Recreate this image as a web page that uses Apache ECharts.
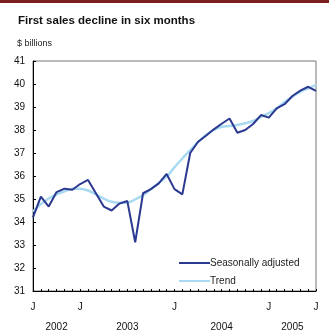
<!DOCTYPE html>
<html><head><meta charset="utf-8">
<script src="https://cdn.jsdelivr.net/npm/echarts@6/dist/echarts.min.js"></script>
<style>html,body{margin:0;padding:0;background:#fff}#c{width:329px;height:333px}</style>
</head><body><div id="c"></div>
<script>
var months = ["J","F","M","A","M","J","J","A","S","O","N","D",
              "J","F","M","A","M","J","J","A","S","O","N","D",
              "J","F","M","A","M","J","J","A","S","O","N","D","J"];
var monthTickLabels = {0:"J",6:"J",18:"J",30:"J",36:"J"};
var yearLabels = {3:"2002",12:"2003",24:"2004",33:"2005"};
var seasonallyAdjusted = [34.2,35.1,34.67,35.3,35.45,35.4,35.65,35.83,35.25,34.67,34.5,34.8,
  34.91,33.12,35.25,35.43,35.68,36.09,35.43,35.2,37.0,37.49,37.75,38.03,
  38.27,38.5,37.88,38.0,38.26,38.65,38.54,38.94,39.12,39.48,39.71,39.88,39.7];
var trend = [34.45,34.78,35.02,35.2,35.33,35.45,35.45,35.37,35.2,35.02,34.88,34.84,
  34.84,34.98,35.17,35.43,35.7,35.97,36.38,36.76,37.12,37.47,37.78,38.0,
  38.14,38.17,38.22,38.29,38.39,38.57,38.73,38.94,39.22,39.45,39.66,39.81,39.96];
var seriesNames = ["Seasonally adjusted","Trend"];

var chart = echarts.init(document.getElementById('c'), null, {renderer:'canvas'});
var font = "Liberation Sans, Arial, sans-serif";
chart.setOption({
  animation:false,
  backgroundColor:'#fff',
  textStyle:{fontFamily:font},
  title:[
    {text:"First sales decline in six months", left:13, top:10,
     textStyle:{fontSize:11.5, fontWeight:'bold', color:'#111', fontFamily:font}},
    {text:"$ billions", left:12, top:34,
     textStyle:{fontSize:9, fontWeight:'normal', color:'#222', fontFamily:font}}
  ],
  graphic:[{type:'rect', left:0, top:0, shape:{width:329,height:3}, style:{fill:'#7a2020'}}],
  legend:{
    orient:'vertical', left:174, top:253, itemWidth:31, itemHeight:2, itemGap:8,
    icon:'rect',
    textStyle:{fontSize:10, color:'#222', padding:[0,0,0,-5]},
    data:seriesNames
  },
  grid:{left:33, top:61, right:13, bottom:42, show:true, borderColor:'#777', borderWidth:1},
  xAxis:[{
    type:'category', data:months, boundaryGap:false,
    axisLine:{lineStyle:{color:'#000', width:1}},
    axisTick:{show:true, inside:true, length:2, interval:0, lineStyle:{color:'#000'}},
    axisLabel:{margin:11, fontSize:10, color:'#111', interval:0,
      formatter:function(v,i){return monthTickLabels[i]||'';}},
    splitLine:{show:false}
  },{
    type:'category', data:months, boundaryGap:false, position:'bottom', offset:20,
    axisLine:{show:false}, axisTick:{show:false},
    axisLabel:{margin:11, fontSize:10, color:'#111', interval:0,
      formatter:function(v,i){return yearLabels[i]||'';}},
    splitLine:{show:false}
  }],
  yAxis:{
    type:'value', min:31, max:41, interval:1,
    axisLine:{show:true, lineStyle:{color:'#000', width:1}},
    axisTick:{show:true, inside:true, length:3, lineStyle:{color:'#000'}},
    axisLabel:{fontSize:10, color:'#111', margin:8},
    splitLine:{show:false}
  },
  series:[
    {name:seriesNames[0], type:'line', data:seasonallyAdjusted, xAxisIndex:0,
     showSymbol:false, symbol:'none', z:3,
     lineStyle:{color:'#2b3990', width:2}, itemStyle:{color:'#2b3990'}},
    {name:seriesNames[1], type:'line', data:trend, xAxisIndex:0,
     showSymbol:false, symbol:'none', smooth:0.3, z:2,
     lineStyle:{color:'#a9daf2', width:2.5}, itemStyle:{color:'#a9daf2'}}
  ]
});
</script></body></html>
